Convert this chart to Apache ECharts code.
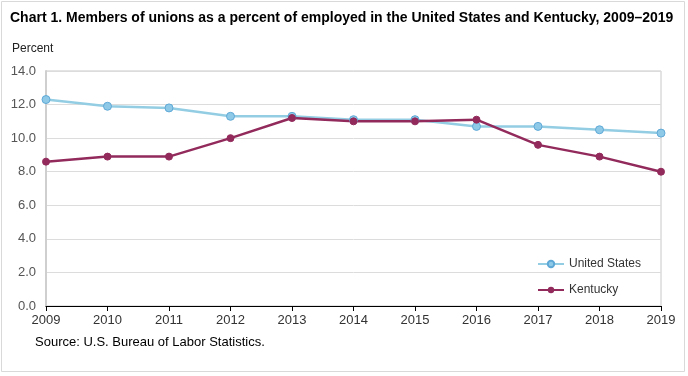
<!DOCTYPE html>
<html>
<head>
<meta charset="utf-8">
<script src="https://cdn.jsdelivr.net/npm/echarts@6/dist/echarts.min.js"></script>
<style>
html,body{margin:0;padding:0;background:#fff;}
#chart{width:688px;height:376px;}
</style>
</head>
<body>
<div id="chart"></div>
<script>
// years on the x axis
let years=["2009","2010","2011","2012","2013","2014","2015","2016","2017","2018","2019"];
// union members, percent of employed
let unitedStates=[12.3,11.9,11.8,11.3,11.3,11.1,11.1,10.7,10.7,10.5,10.3];
let kentucky=[8.6,8.9,8.9,10.0,11.2,11.0,11.0,11.1,9.6,8.9,8.0];

let chart=echarts.init(document.getElementById("chart"),null,{renderer:"canvas"});
let font="Arial, 'Liberation Sans', sans-serif";
let option={
	animation:false,
	textStyle:{fontFamily:font},
	graphic:[
		{type:"rect",shape:{x:1.5,y:1.5,width:683,height:370},style:{fill:"none",stroke:"#d9d9d9",lineWidth:1}},
		{type:"text",left:10,top:11,style:{text:"Chart 1. Members of unions as a percent of employed in the United States and Kentucky, 2009\u20132019",font:"bold 14px "+font,fill:"#000"}},
		{type:"text",left:12,top:43,style:{text:"Percent",font:"12px "+font,fill:"#222"}},
		{type:"text",left:35,top:336,style:{text:"Source: U.S. Bureau of Labor Statistics.",font:"13px "+font,fill:"#000"}}
	],
	legend:{
		orient:"vertical",
		left:532,
		top:253,
		itemWidth:26,
		itemHeight:8,
		itemGap:14,
		textStyle:{fontSize:12,color:"#333",fontFamily:font},
		data:["United States","Kentucky"]
	},
	grid:{left:46,right:27,top:71,bottom:70,show:true,borderColor:"#c8c8c8",borderWidth:1},
	xAxis:{
		type:"category",
		data:years,
		boundaryGap:false,
		axisLine:{lineStyle:{color:"#000",width:1}},
		axisTick:{show:true,length:5,lineStyle:{color:"#000"}},
		axisLabel:{fontSize:13,color:"#333",margin:8,fontFamily:font}
	},
	yAxis:{
		type:"value",
		min:0,
		max:14,
		interval:2,
		axisLine:{show:true,lineStyle:{color:"#cfcfcf",width:2}},
		axisTick:{show:false},
		splitLine:{lineStyle:{color:"#dcdcdc",width:1}},
		axisLabel:{fontSize:13,color:"#555",margin:10,fontFamily:font,formatter:function(v){return v.toFixed(1);}}
	},
	series:[
		{
			name:"United States",
			type:"line",
			data:unitedStates,
			symbol:"circle",
			symbolSize:8,
			lineStyle:{color:"#93cde3",width:2.5},
			itemStyle:{color:"#8ecae8",borderColor:"#5fa8d6",borderWidth:1}
		},
		{
			name:"Kentucky",
			type:"line",
			data:kentucky,
			symbol:"circle",
			symbolSize:7,
			lineStyle:{color:"#922a5c",width:2.5},
			itemStyle:{color:"#922a5c",borderColor:"#922a5c"}
		}
	]
};
chart.setOption(option);
</script>
</body>
</html>
